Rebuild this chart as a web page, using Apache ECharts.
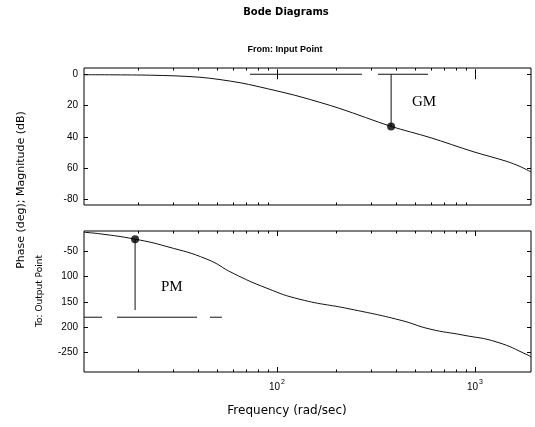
<!DOCTYPE html>
<html><head><meta charset="utf-8">
<script src="https://cdn.jsdelivr.net/npm/echarts@6/dist/echarts.min.js"></script>
<style>html,body{margin:0;padding:0;background:#fff}#c{width:535px;height:427px}</style>
</head><body><div id="c"></div>
<script>
// ---- data ----
const freqRange = [10.6, 1918];                 // rad/sec, plot extent
const majorFreqs = [100, 1000];
const minorFreqs = [20, 30, 40, 50, 60, 70, 80, 90, 200, 300, 400, 500, 600, 700, 800, 900];

const magFreq = [10.6, 22.9, 40.8, 65.0, 98.8, 130.7, 208, 377, 593, 977, 1452, 1688, 1918];
const magDb   = [-0.3, -0.6, -1.9, -5.4, -10.5, -14.3, -21.9, -33.3, -40.4, -49.4, -55.7, -58.9, -62.4];
const magTicks = [0, -20, -40, -60, -80];
const magTickLabels = ['0', '20', '40', '60', '-80'];
const magRange = [-83.5, 4];

const phaseFreq = [10.6, 12.8, 19.2, 27.8, 44.3, 60, 89, 130.7, 234, 418, 593, 869, 1291, 1853, 1918];
const phaseDeg  = [-12.6, -15.6, -26.1, -40.7, -65.6, -93.3, -122.9, -144.7, -163.8, -185.6, -203.4, -215.2, -229, -254.7, -258.7];
const phaseTicks = [-50, -100, -150, -200, -250];
const phaseTickLabels = ['-50', '100', '150', '200', '-250'];
const phaseRange = [-288, -10];

const gmFreq = 377, gmDb = -33.3, gmRefFreq = [73, 580];
const pmFreq = 19.2, pmDeg = -26.1, pmLineEnd = -166, pmRefFreq = [10.6, 52.7];

// ---- chart ----
const L = v => Math.log10(v);
const xMin = L(freqRange[0]), xMax = L(freqRange[1]);
const black = '#000';
const labelFont = {color: black, fontFamily: 'Liberation Sans', fontSize: 10};

function xAx(g, pos, vals, len, withLabels) {
  return {
    gridIndex: g, type: 'value', min: xMin, max: xMax, position: pos,
    axisLine: {show: false}, splitLine: {show: false},
    axisTick: {show: true, inside: true, length: len, customValues: vals.map(L), lineStyle: {color: black, width: 1}},
    axisLabel: withLabels ? {
      show: true, customValues: vals.map(L), margin: 7,
      formatter: v => '{b|10}{s|' + Math.round(v) + '}',
      rich: {b: {fontSize: 10, fontFamily: 'Liberation Sans', color: black},
             s: {fontSize: 7, fontFamily: 'Liberation Sans', color: black, padding: [0, 0, 9, 1]}}
    } : {show: false}
  };
}
function yAx(g, pos, range, ticks, labels) {
  return {
    gridIndex: g, type: 'value', min: range[0], max: range[1], position: pos,
    axisLine: {show: false}, splitLine: {show: false},
    axisTick: {show: true, inside: true, length: 4, customValues: ticks, lineStyle: {color: black, width: 1}},
    axisLabel: labels ? Object.assign({show: true, customValues: ticks, margin: 6,
      formatter: v => labels[ticks.indexOf(v)]}, labelFont) : {show: false}
  };
}

const xAxis = [
  xAx(0, 'bottom', majorFreqs, 5, false),
  xAx(1, 'bottom', majorFreqs, 5, true),
  xAx(0, 'top', majorFreqs, 5, false),
  xAx(1, 'top', majorFreqs, 5, false),
  xAx(0, 'bottom', minorFreqs, 2.5, false),
  xAx(1, 'bottom', minorFreqs, 2.5, false),
  xAx(0, 'top', minorFreqs, 2.5, false),
  xAx(1, 'top', minorFreqs, 2.5, false)
];
const yAxis = [
  yAx(0, 'left', magRange, magTicks, magTickLabels),
  yAx(0, 'right', magRange, magTicks, null),
  yAx(1, 'left', phaseRange, phaseTicks, phaseTickLabels),
  yAx(1, 'right', phaseRange, phaseTicks, null)
];

const lineBase = {type: 'line', showSymbol: false, symbol: 'none', silent: true, z: 3};
const series = [
  Object.assign({}, lineBase, {xAxisIndex: 0, yAxisIndex: 0, smooth: 0.3,
    data: magFreq.map((f, i) => [L(f), magDb[i]]), lineStyle: {color: '#111', width: 1}}),
  Object.assign({}, lineBase, {xAxisIndex: 0, yAxisIndex: 0,
    data: [[L(gmRefFreq[0]), 0], [L(gmRefFreq[1]), 0]],
    lineStyle: {color: '#111', width: 1, type: [112, 16, 50, 1000]}}),
  Object.assign({}, lineBase, {xAxisIndex: 0, yAxisIndex: 0,
    data: [[L(gmFreq), 0], [L(gmFreq), gmDb]], lineStyle: {color: '#111', width: 1}}),
  {type: 'scatter', xAxisIndex: 0, yAxisIndex: 0, symbolSize: 8, z: 5, silent: true,
    itemStyle: {color: black}, data: [[L(gmFreq), gmDb]]},

  Object.assign({}, lineBase, {xAxisIndex: 1, yAxisIndex: 2, smooth: 0.5,
    data: phaseFreq.map((f, i) => [L(f), phaseDeg[i]]), lineStyle: {color: '#111', width: 1}}),
  Object.assign({}, lineBase, {xAxisIndex: 1, yAxisIndex: 2,
    data: [[L(pmRefFreq[0]), -180], [L(pmRefFreq[1]), -180]],
    lineStyle: {color: '#111', width: 1, type: [18, 15, 80, 13, 12, 100]}}),
  Object.assign({}, lineBase, {xAxisIndex: 1, yAxisIndex: 2,
    data: [[L(pmFreq), pmDeg], [L(pmFreq), pmLineEnd]], lineStyle: {color: '#111', width: 1}}),
  {type: 'scatter', xAxisIndex: 1, yAxisIndex: 2, symbolSize: 8, z: 5, silent: true,
    itemStyle: {color: black}, data: [[L(pmFreq), pmDeg]]}
];

const chart = echarts.init(document.getElementById('c'), null, {renderer: 'canvas'});
chart.setOption({
  animation: false,
  backgroundColor: '#fff',
  grid: [
    {left: 84, right: 4, top: 68, height: 137, show: true, borderColor: black, borderWidth: 1, outerBoundsMode: 'none'},
    {left: 84, right: 4, top: 231, height: 141, show: true, borderColor: black, borderWidth: 1, outerBoundsMode: 'none'}
  ],
  xAxis: xAxis,
  yAxis: yAxis,
  series: series,
  graphic: [
    {type: 'text', x: 286, y: 12, silent: true,
     style: {text: 'Bode Diagrams', fill: black, font: 'bold 10px "DejaVu Sans"', align: 'center', verticalAlign: 'middle'}},
    {type: 'text', x: 285, y: 50, silent: true,
     style: {text: 'From: Input Point', fill: black, font: 'bold 9px "Liberation Sans"', align: 'center', verticalAlign: 'middle'}},
    {type: 'text', left: 412, top: 95, silent: true,
     style: {text: 'GM', fill: black, font: '15px "Liberation Serif"'}},
    {type: 'text', left: 161, top: 280, silent: true,
     style: {text: 'PM', fill: black, font: '15px "Liberation Serif"'}},
    {type: 'text', x: 21, y: 190, rotation: Math.PI / 2, silent: true,
     style: {text: 'Phase (deg); Magnitude (dB)', fill: black, font: '11px "DejaVu Sans"', align: 'center', verticalAlign: 'middle'}},
    {type: 'text', x: 40, y: 291, rotation: Math.PI / 2, silent: true,
     style: {text: 'To: Output Point', fill: black, font: '9px "DejaVu Sans"', align: 'center', verticalAlign: 'middle'}},
    {type: 'text', x: 287, y: 411, silent: true,
     style: {text: 'Frequency (rad/sec)', fill: black, font: '12px "DejaVu Sans"', align: 'center', verticalAlign: 'middle'}}
  ]
});
</script></body></html>
